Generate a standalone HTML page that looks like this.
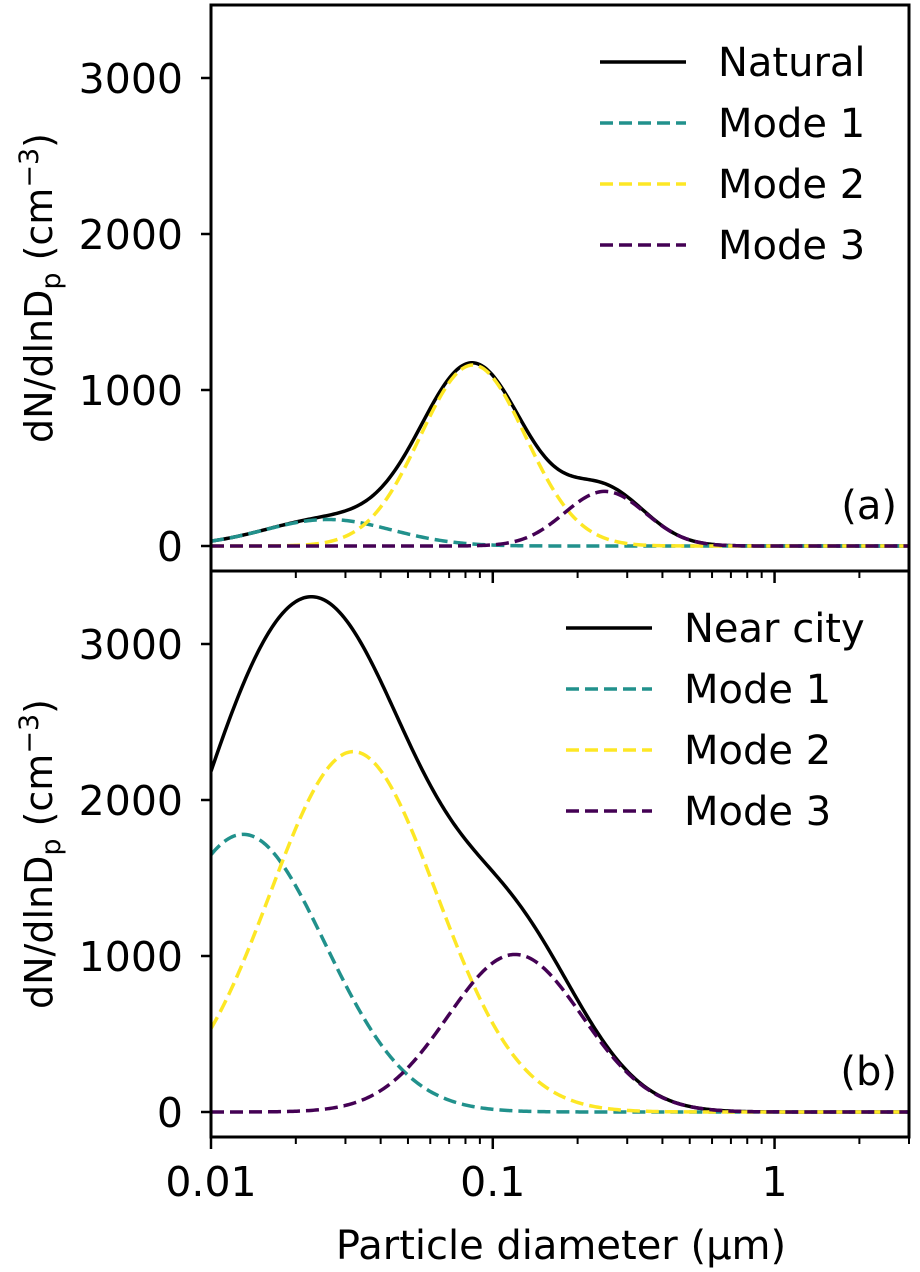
<!DOCTYPE html>
<html><head><meta charset="utf-8"><style>
html,body{margin:0;padding:0;background:#fff;}
svg{display:block;font-family:"DejaVu Sans","Liberation Sans",sans-serif;}
</style></head><body>
<svg id="chart" width="920" height="1272" viewBox="0 0 920 1272" xmlns="http://www.w3.org/2000/svg"></svg>
<script>
// Panel (a) "Natural" modes: peak amplitude (cm^-3), peak diameter (um), ln-width
const modeNamesA = ["Mode 1","Mode 2","Mode 3"];
const peaksA = [170, 1160, 350];
const diamsA = [0.026, 0.085, 0.25];
const widthsA = [0.52, 0.43, 0.33];
// Panel (b) "Near city"
const modeNamesB = ["Mode 1","Mode 2","Mode 3"];
const peaksB = [1780, 2310, 1010];
const diamsB = [0.013, 0.032, 0.12];
const widthsB = [0.67, 0.68, 0.55];
const yTicks = [0, 1000, 2000, 3000];
const xTickVals = [0.01, 0.1, 1];
const xTickLabels = ["0.01", "0.1", "1"];
const modeColors = ["#21918c", "#fde725", "#440154"];

const NS = "http://www.w3.org/2000/svg";
const svg = document.getElementById("chart");
const X0 = 211, X1 = 909;
const xmin = 0.01, xmax = 3;
function xs(v){ return X0 + (Math.log10(v) - Math.log10(xmin)) / (Math.log10(xmax) - Math.log10(xmin)) * (X1 - X0); }
function mk(tag, attrs, parent){ const e = document.createElementNS(NS, tag); for (const k in attrs) e.setAttribute(k, attrs[k]); (parent||svg).appendChild(e); return e; }
function modeVal(d, p, dg, s){ const z = Math.log(d/dg); return p*Math.exp(-z*z/(2*s*s)); }

function panel(top, bottom, zeroY, peaks, diams, widths, names, totalName, letter, id){
  const ppu = 0.156;
  const ys = v => zeroY - v*ppu;
  const g = mk("g", {});
  
  
  const clipId = "clip" + id;
  const cp = mk("clipPath", {id: clipId}, g);
  mk("rect", {x: X0, y: top, width: X1-X0, height: bottom-top}, cp);
  const N = 400;
  function pathFor(fn){
    let d = "";
    for (let i=0;i<=N;i++){ const lx = Math.log10(xmin) + i/N*(Math.log10(xmax)-Math.log10(xmin)); const v = Math.pow(10,lx); d += (i?"L":"M") + xs(v).toFixed(2) + "," + ys(fn(v)).toFixed(2); }
    return d;
  }
  const lines = mk("g", {"clip-path": "url(#"+clipId+")"}, g);
  const tot = mk("path", {d: pathFor(v => { let s=0; for (let m=0;m<peaks.length;m++) s+=modeVal(v,peaks[m],diams[m],widths[m]); return s; }), fill: "none", stroke: "#000", "stroke-width": 3.5}, lines);
  
  
  for (let m=0;m<peaks.length;m++){
    const p = mk("path", {d: pathFor(v => modeVal(v, peaks[m], diams[m], widths[m])), fill: "none", stroke: modeColors[m], "stroke-width": 3.5, "stroke-dasharray": "13,6"}, lines);
    
    
  }
  const frame = mk("rect", {x: X0, y: top, width: X1-X0, height: bottom-top, fill: "none", stroke: "#000", "stroke-width": 3}, g);
  
  
  yTicks.forEach(t => {
    const y = ys(t);
    mk("line", {x1: X0-10, x2: X0, y1: y, y2: y, stroke: "#000", "stroke-width": 2.5}, g);
    const tx = mk("text", {x: X0-28, y: y+15, "text-anchor": "end", "font-size": 41}, g);
    tx.textContent = t;
    
    
  });
  for (let dec=-2; dec<=0; dec++){
    for (let k=1;k<=9;k++){
      const v = k*Math.pow(10,dec);
      if (v>xmax+1e-9) break;
      const x = xs(v);
      mk("line", {x1: x, x2: x, y1: bottom, y2: bottom + (k===1?12:7), stroke: "#000", "stroke-width": k===1?2.5:2}, g);
    }
  }
  const yl = mk("text", {x: 0, y: 0, transform: "translate(52," + ((top+bottom)/2) + ") rotate(-90)", "text-anchor": "middle", "font-size": 38}, g);
  yl.innerHTML = 'dN/dlnD<tspan font-size="27" dy="8">p</tspan><tspan dy="-8"> (cm</tspan><tspan font-size="27" dy="-14">−3</tspan><tspan dy="14">)</tspan>';
  
  
  const lt = mk("text", {x: 897, y: bottom-52, "text-anchor": "end", "font-size": 40}, g);
  lt.textContent = letter;
  
  
  const lg = mk("g", {}, g);
  
  
  const lx = (id==="a") ? 600 : 566;
  const entries = [[totalName, "#000", null]].concat(names.map((n,i)=>[n, modeColors[i], "13,6"]));
  entries.forEach((e,i) => {
    const y = top + 57 + i*61;
    const ln = mk("line", {x1: lx, x2: lx+86, y1: y, y2: y, stroke: e[1], "stroke-width": 3.5}, lg);
    if (e[2]) ln.setAttribute("stroke-dasharray", e[2]);
    const t = mk("text", {x: lx+118, y: y+14, "font-size": 40}, lg);
    t.textContent = e[0];
    
    
  });
}
panel(5, 571, 546, peaksA, diamsA, widthsA, modeNamesA, "Natural", "(a)", "a");
panel(571, 1137, 1112, peaksB, diamsB, widthsB, modeNamesB, "Near city", "(b)", "b");
xTickVals.forEach((v,i) => {
  const t = mk("text", {x: xs(v), y: 1196, "text-anchor": "middle", "font-size": 41});
  t.textContent = xTickLabels[i];
  
  
});
const xl = mk("text", {x: 561, y: 1259, "text-anchor": "middle", "font-size": 40});
xl.textContent = "Particle diameter (µm)";


</script>
</body></html>
